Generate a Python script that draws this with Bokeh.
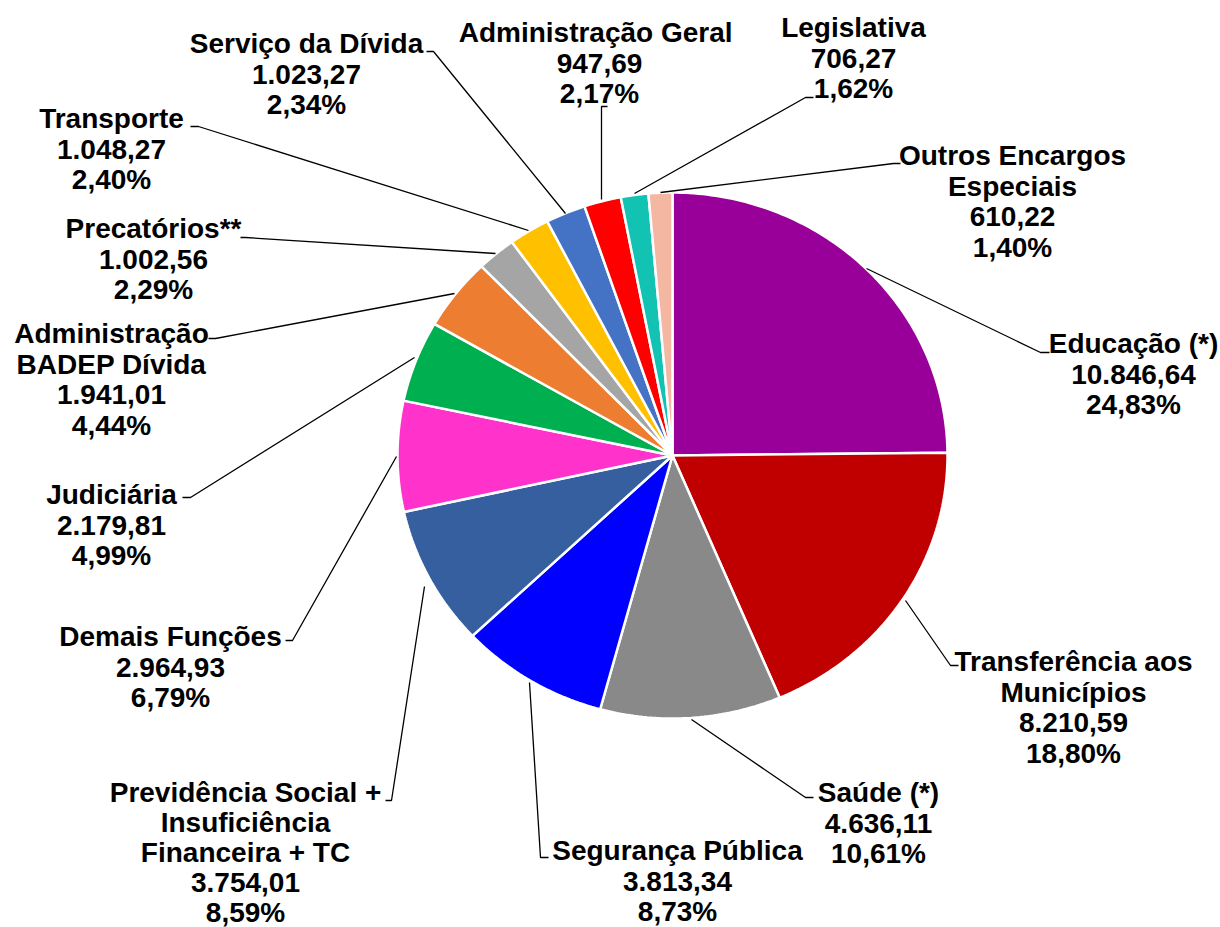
import math
from bokeh.plotting import figure
from bokeh.models import Range1d
from bokeh.core.properties import value
from bokeh.embed import file_html
from bokeh.resources import INLINE

# ---------------- data ----------------
categories = [
    "Educação (*)",
    "Transferência aos\nMunicípios",
    "Saúde (*)",
    "Segurança Pública",
    "Previdência Social +\nInsuficiência\nFinanceira + TC",
    "Demais Funções",
    "Judiciária",
    "Administração\nBADEP Dívida",
    "Precatórios**",
    "Transporte",
    "Serviço da Dívida",
    "Administração  Geral",
    "Legislativa",
    "Outros Encargos\nEspeciais",
]
values = [10846.64, 8210.59, 4636.11, 3813.34, 3754.01, 2964.93, 2179.81,
          1941.01, 1002.56, 1048.27, 1023.27, 947.69, 706.27, 610.22]
percents = ["24,83%", "18,80%", "10,61%", "8,73%", "8,59%", "6,79%", "4,99%",
            "4,44%", "2,29%", "2,40%", "2,34%", "2,17%", "1,62%", "1,40%"]
colors = ["#990099", "#C00000", "#898989", "#0000FF", "#365F9F", "#FF33CC",
          "#00B050", "#ED7D31", "#A5A5A5", "#FFC000", "#4472C4", "#FF0000",
          "#12C2B2", "#F4B8A2"]

# ---------------- layout (page pixel coordinates) ----------------
W, H = 1220, 927
CX, CY = 672, 455      # pie centre
RX, RY = 275, 263      # pie radii

# label block: (centre x, middle y of first line, line spacing)
label_pos = [
    (1133, 343, 30.5), (1073, 661, 30.5), (878, 792, 30.5), (677, 850, 30.5),
    (245, 792, 30.0), (170, 636, 30.5), (111, 494, 30.5), (111, 333, 30.5),
    (153, 228, 30.5), (111, 118, 30.5), (306, 43, 30.5), (599, 32, 30.5),
    (853, 27, 30.5), (1012, 155, 30.5),
]

# leader lines
leaders = [
    [(866, 268), (1040, 352), (1049, 352)],
    [(905, 600), (950, 665), (958, 665)],
    [(691, 719), (805, 797), (813, 797)],
    [(529, 682), (540, 857), (548, 857)],
    [(424, 586), (391, 800), (385, 800)],
    [(396, 456), (292, 640), (285, 640)],
    [(414, 357), (190, 497), (182, 497)],
    [(454, 293), (215, 338), (208, 338)],
    [(495, 253), (245, 237), (240, 237)],
    [(528, 230), (198, 126), (190, 126)],
    [(565, 213), (433, 51), (426, 51)],
    [(601, 199), (601, 106), (607, 106)],
    [(634, 193), (805, 97), (813, 97)],
    [(660, 192), (893, 163), (900, 163)],
]


def fmt(v):
    s = f"{v:,.2f}"
    return s.replace(",", "X").replace(".", ",").replace("X", ".")


p = figure(width=W, height=H, output_backend="svg", toolbar_location=None,
           x_range=Range1d(0, W), y_range=Range1d(-H, 0),
           min_border=0, min_border_left=0, min_border_right=0,
           min_border_top=0, min_border_bottom=0)
p.axis.visible = False
p.grid.visible = False
p.outline_line_color = None
p.background_fill_color = "white"
p.border_fill_color = "white"

# ---------------- pie slices ----------------
total = sum(values)
start = 0.0
xs_all, ys_all = [], []
for v in values:
    frac = v / total
    a0 = start * 2 * math.pi
    a1 = (start + frac) * 2 * math.pi
    n = max(8, int(frac * 400))
    xs = [CX]
    ys = [-CY]
    for i in range(n + 1):
        t = a0 + (a1 - a0) * i / n
        xs.append(CX + RX * math.sin(t))
        ys.append(-(CY - RY * math.cos(t)))
    xs_all.append(xs)
    ys_all.append(ys)
    start += frac

p.patches(xs_all, ys_all, fill_color=colors, line_color="white", line_width=2.5)

# ---------------- leader lines ----------------
p.multi_line([[pt[0] for pt in L] for L in leaders],
             [[-pt[1] for pt in L] for L in leaders],
             line_color="black", line_width=1.3)

# ---------------- labels ----------------
tx, ty, tt = [], [], []
for name, v, pc, (lx, ly, lh) in zip(categories, values, percents, label_pos):
    lines = name.split("\n") + [fmt(v), pc]
    for k, ln in enumerate(lines):
        tx.append(lx)
        ty.append(-(ly + k * lh))
        tt.append(ln)

p.text(tx, ty, text=tt, text_align="center", text_baseline="middle",
       text_font=value("Liberation Sans"), text_font_style="bold",
       text_font_size="28px", text_color="black")

open("out.html", "w").write(file_html(p, INLINE))
